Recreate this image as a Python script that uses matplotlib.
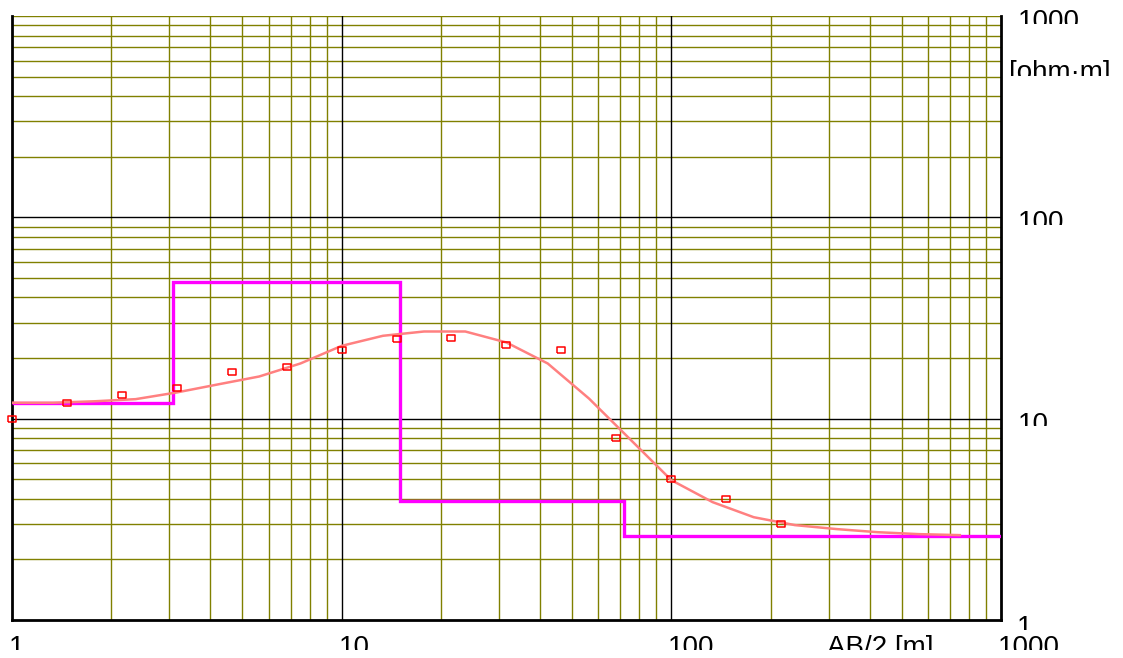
import numpy as np
import matplotlib
matplotlib.use('Agg')
import matplotlib.pyplot as plt
from matplotlib.transforms import Bbox

# measured apparent resistivity
ab2 = [1.0, 1.47, 2.15, 3.16, 4.64, 6.81, 10.0, 14.7, 21.5, 31.6, 46.4, 68.1, 100.0, 147.0, 215.0]
rho_meas = [10.0, 12.0, 13.1, 14.2, 17.0, 18.0, 22.0, 25.0, 25.1, 23.2, 22.0, 8.0, 5.0, 4.0, 3.0]

# computed model curve
ab2_calc = [1.0, 1.334, 1.778, 2.371, 3.162, 4.217, 5.623, 7.499, 10.0, 13.34, 17.78, 23.71,
            31.62, 42.17, 56.23, 74.99, 100.0, 133.4, 177.8, 237.1, 316.2, 421.7, 562.3, 749.9]
rho_calc = [12.0, 12.0, 12.2, 12.5, 13.5, 14.8, 16.2, 18.8, 23.0, 25.8, 27.1, 27.1,
            23.9, 18.8, 12.6, 7.9, 4.95, 3.85, 3.24, 2.96, 2.83, 2.73, 2.67, 2.64]

# layered model
depth_edges = [1.0, 3.08, 15.0, 71.7, 1000.0]
rho_layers = [12.0, 47.9, 3.89, 2.61]

x_ticks = [1, 10, 100, 1000]
y_ticks = [1000, 100, 10, 1]

W, H = 1123, 658
fig = plt.figure(figsize=(W / 100, H / 100), dpi=100)
ax = fig.add_axes([12 / W, (H - 620) / H, 989 / W, 604 / H])
ax.set_xscale('log')
ax.set_yscale('log')
ax.set_xlim(1, 1000)
ax.set_ylim(1, 1000)

olive = '#808000'
for d in range(3):
    for m in range(2, 10):
        v = m * 10 ** d
        ax.axvline(v, color=olive, lw=1.0, zorder=1)
        ax.axhline(v, color=olive, lw=1.0, zorder=1)
for v in [10, 100]:
    ax.axvline(v, color='black', lw=1.0, zorder=1.5)
    ax.axhline(v, color='black', lw=1.0, zorder=1.5)
ax.axhline(1000, color=olive, lw=1.0, zorder=1)

ax.stairs(rho_layers, depth_edges, baseline=None, color='#ff00ff', lw=2.4, zorder=3)
ax.plot(ab2_calc, rho_calc, color='#ff8080', lw=1.8, zorder=4)

rect = [(-1.6, -1), (1.6, -1), (1.6, 1), (-1.6, 1), (-1.6, -1)]
ax.plot(ab2, rho_meas, ls='none', marker=rect, markersize=6.3, markerfacecolor='none',
        markeredgecolor='red', markeredgewidth=1.1, zorder=5, clip_on=False)

ax.set_xticks([])
ax.set_yticks([])
ax.minorticks_off()
for s in ['left', 'bottom', 'right']:
    ax.spines[s].set_linewidth(2.0)
    ax.spines[s].set_color('black')
ax.spines['top'].set_visible(False)

font = dict(family=['Liberation Sans', 'DejaVu Sans'], fontsize=20, color='black')


def clipped_text(x, top, clip_bottom, s):
    # x, top, clip_bottom in image pixels (y down)
    t = fig.text(x, H - top, s, transform=None, ha='left', va='top', **font)
    t.set_clip_box(Bbox.from_extents(x - 5, H - clip_bottom, W, H))
    t.set_clip_on(True)
    return t


for v in y_ticks:
    py = H - ax.transData.transform((1, v))[1]
    if v == 1:
        clipped_text(1017, py - 5, py + 10, str(v))
    else:
        clipped_text(1018, py - 7, py + 7.5, str(v))
clipped_text(1009, 60, 76, '[ohm·m]')

for v in x_ticks:
    px = ax.transData.transform((v, 1))[0]
    clipped_text(px - 3, 635, 650, str(v))
clipped_text(827, 635, 650, 'AB/2 [m]')

fig.savefig('out.png', dpi=100)
